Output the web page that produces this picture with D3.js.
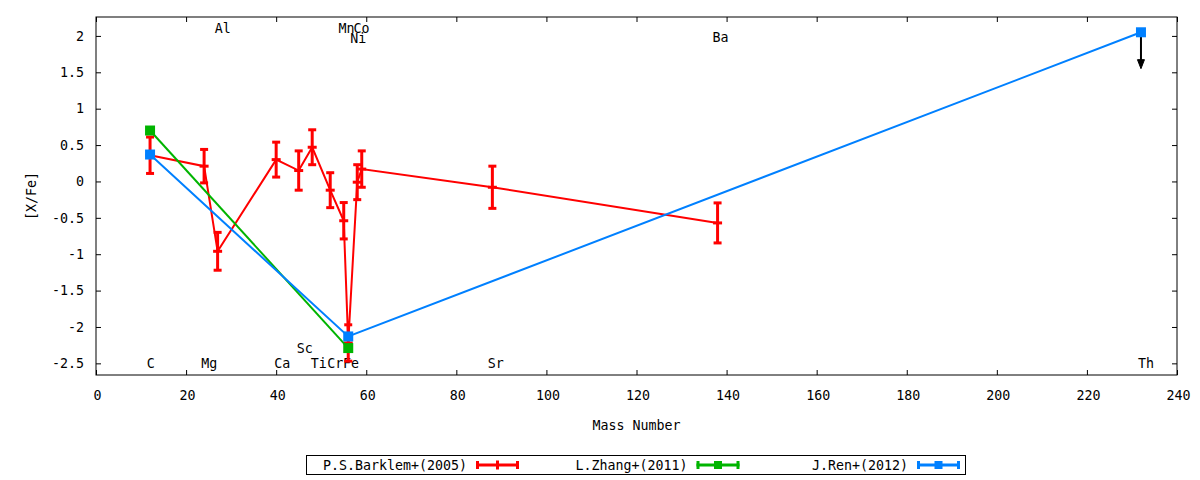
<!DOCTYPE html>
<html><head><meta charset="utf-8">
<script src="https://cdn.jsdelivr.net/npm/d3@7"></script>
<style>
body{margin:0;background:#fff}
text{font-family:"DejaVu Sans Mono",monospace;font-size:13.3px;fill:#000}
</style>
</head><body>
<svg id="chart" width="1200" height="480"></svg>
<script>
// ---- data ----
const barklemMass   = [12, 24, 27, 40, 45, 48, 52, 55, 56, 58, 59, 88, 138];
const barklemValues = [0.36, 0.21, -0.96, 0.30, 0.15, 0.47, -0.12, -0.54, -2.22, -0.01, 0.17, -0.08, -0.57];
const barklemErrors = [0.25, 0.23, 0.26, 0.24, 0.27, 0.24, 0.24, 0.25, 0.25, 0.24, 0.25, 0.29, 0.275];

const zhangMass   = [12, 56];
const zhangValues = [0.70, -2.29];

const renMass   = [12, 56, 232];
const renValues = [0.37, -2.13, 2.05];
const renUpperLimitLength = 0.5; // Th arrow

const labelNames = ["C","Mg","Al","Ca","Sc","Ti","Cr","Fe","Mn","Co","Ni","Sr","Ba","Th"];
const labelMass  = [11.7, 23.8, 26.8, 40, 45, 48.1, 51.8, 55.3, 54.3, 57.6, 56.9, 87.4, 137.3, 231.8];
const labelY     = [-2.5, -2.5, 2.1, -2.5, -2.3, -2.5, -2.5, -2.5, 2.1, 2.1, 1.97, -2.5, 1.98, -2.5];

const xTicks = d3.range(0, 241, 20);
const yTicks = [-2.5, -2, -1.5, -1, -0.5, 0, 0.5, 1, 1.5, 2];

const seriesNames  = ["P.S.Barklem+(2005)", "L.Zhang+(2011)", "J.Ren+(2012)"];
const seriesColors = ["#ff0000", "#00b400", "#0080ff"];

// ---- layout ----
const svg = d3.select("#chart");
const L = 96, R = 1177, T = 17, B = 375;
const x = d3.scaleLinear().domain([0, 240]).range([L, R]);
const y = d3.scaleLinear().domain([-2.66, 2.26]).range([B, T]);

// axes
const fmt = d => String(d);
svg.append("g").attr("transform", `translate(1,${B})`)
  .call(d3.axisBottom(x).tickValues(xTicks).tickFormat(fmt).tickSizeInner(0).tickSizeOuter(0).tickPadding(16));
svg.append("g").attr("transform", `translate(0,${B})`)
  .call(d3.axisBottom(x).tickValues(xTicks).tickFormat("").tickSizeInner(-5).tickSizeOuter(0));
svg.append("g").attr("transform", `translate(0,${T})`)
  .call(d3.axisTop(x).tickValues(xTicks).tickFormat("").tickSizeInner(-5).tickSizeOuter(0));
svg.append("g").attr("transform", `translate(${L},0)`)
  .call(d3.axisLeft(y).tickValues(yTicks).tickFormat(fmt).tickSizeInner(-5).tickSizeOuter(0).tickPadding(12));
svg.append("g").attr("transform", `translate(${R},0)`)
  .call(d3.axisRight(y).tickValues(yTicks).tickFormat("").tickSizeInner(-5).tickSizeOuter(0));
svg.selectAll(".domain").remove();
svg.selectAll(".tick line").attr("stroke", "#000");
svg.selectAll(".tick text").style("font-family", '"DejaVu Sans Mono",monospace').style("font-size", "13.3px").attr("fill", "#000");

svg.append("rect").attr("x", L).attr("y", T).attr("width", R - L).attr("height", B - T)
  .attr("fill", "none").attr("stroke", "#000").attr("stroke-width", 1);

// axis titles
svg.append("text").attr("x", (L + R) / 2).attr("y", 425).attr("dy", "0.35em")
  .attr("text-anchor", "middle").text("Mass Number");
svg.append("text").attr("transform", `translate(31,196) rotate(-90)`).attr("dy", "0.35em")
  .attr("text-anchor", "middle").text("[X/Fe]");

// element labels
labelNames.forEach((n, i) => {
  svg.append("text").attr("x", x(labelMass[i]) - 2).attr("y", y(labelY[i])).attr("dy", "0.35em")
    .attr("text-anchor", "start").text(n);
});

const line = d3.line().x(d => x(d[0])).y(d => y(d[1]));
const cap = 4;

// Barklem series
const bk = barklemMass.map((m, i) => [m, barklemValues[i], barklemErrors[i]]);
const gB = svg.append("g");
gB.append("path").attr("d", line(bk)).attr("fill", "none").attr("stroke", seriesColors[0]).attr("stroke-width", 2);
bk.forEach(d => {
  const cx = x(d[0]), y1 = y(d[1] + d[2]), y2 = y(d[1] - d[2]), cy = y(d[1]);
  gB.append("line").attr("x1", cx).attr("x2", cx).attr("y1", y1).attr("y2", y2).attr("stroke", seriesColors[0]).attr("stroke-width", 3);
  gB.append("line").attr("x1", cx - cap).attr("x2", cx + cap).attr("y1", y1).attr("y2", y1).attr("stroke", seriesColors[0]).attr("stroke-width", 3);
  gB.append("line").attr("x1", cx - cap).attr("x2", cx + cap).attr("y1", y2).attr("y2", y2).attr("stroke", seriesColors[0]).attr("stroke-width", 3);
  gB.append("line").attr("x1", cx - 4.5).attr("x2", cx + 4.5).attr("y1", cy).attr("y2", cy).attr("stroke", seriesColors[0]).attr("stroke-width", 3);
});

// Zhang series
const zh = zhangMass.map((m, i) => [m, zhangValues[i]]);
const gZ = svg.append("g");
gZ.append("path").attr("d", line(zh)).attr("fill", "none").attr("stroke", seriesColors[1]).attr("stroke-width", 2);
zh.forEach(d => {
  gZ.append("rect").attr("x", x(d[0]) - 5).attr("y", y(d[1]) - 5).attr("width", 10).attr("height", 10).attr("fill", seriesColors[1]);
});

// Ren series
const rn = renMass.map((m, i) => [m, renValues[i]]);
const gR = svg.append("g");
gR.append("path").attr("d", line(rn)).attr("fill", "none").attr("stroke", seriesColors[2]).attr("stroke-width", 2);
// Th upper-limit arrow
const th = rn[rn.length - 1];
const ax = x(th[0]), ay1 = y(th[1]), ay2 = y(th[1] - renUpperLimitLength);
gR.append("line").attr("x1", ax).attr("x2", ax).attr("y1", ay1).attr("y2", ay2 - 6).attr("stroke", "#000").attr("stroke-width", 2);
gR.append("path").attr("d", `M${ax - 3.5},${ay2 - 9} L${ax + 3.5},${ay2 - 9} L${ax},${ay2} Z`).attr("fill", "#000").attr("stroke", "#000").attr("stroke-width", 1);
rn.forEach(d => {
  gR.append("rect").attr("x", x(d[0]) - 5).attr("y", y(d[1]) - 5).attr("width", 10).attr("height", 10).attr("fill", seriesColors[2]);
});

// legend
svg.append("rect").attr("x", 306.5).attr("y", 455.5).attr("width", 659).attr("height", 19)
  .attr("fill", "none").attr("stroke", "#000").attr("stroke-width", 1);
seriesNames.forEach((n, i) => {
  const off = i * 220.5;
  const ly = 465;
  svg.append("text").attr("x", 467 + off).attr("y", ly).attr("dy", "0.35em").attr("text-anchor", "end").text(n);
  const x1 = 476 + off, x2 = 519 + off, xm = (x1 + x2) / 2;
  const c = seriesColors[i];
  svg.append("line").attr("x1", x1).attr("x2", x2).attr("y1", ly).attr("y2", ly).attr("stroke", c).attr("stroke-width", 3);
  svg.append("line").attr("x1", x1 + 1.5).attr("x2", x1 + 1.5).attr("y1", ly - 4).attr("y2", ly + 4).attr("stroke", c).attr("stroke-width", 3);
  svg.append("line").attr("x1", x2 - 1.5).attr("x2", x2 - 1.5).attr("y1", ly - 4).attr("y2", ly + 4).attr("stroke", c).attr("stroke-width", 3);
  if (i === 0) {
    svg.append("line").attr("x1", xm).attr("x2", xm).attr("y1", ly - 4.5).attr("y2", ly + 4.5).attr("stroke", c).attr("stroke-width", 3);
  } else {
    svg.append("rect").attr("x", xm - 4).attr("y", ly - 4).attr("width", 8).attr("height", 8).attr("fill", c);
  }
});
</script>
</body></html>
